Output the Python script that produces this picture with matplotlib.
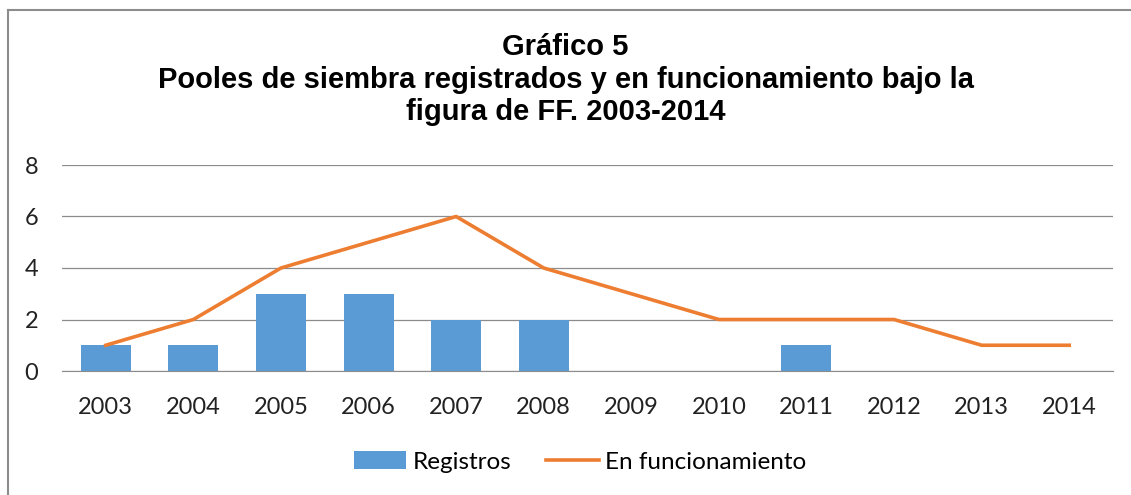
import matplotlib.pyplot as plt
from matplotlib.lines import Line2D
import numpy as np

years = ["2003", "2004", "2005", "2006", "2007", "2008",
         "2009", "2010", "2011", "2012", "2013", "2014"]
registros = [1, 1, 3, 3, 2, 2, 0, 0, 1, 0, 0, 0]
funcionamiento = [1, 2, 4, 5, 6, 4, 3, 2, 2, 2, 1, 1]

plt.rcParams["font.family"] = ["Lato", "DejaVu Sans"]

fig = plt.figure(figsize=(11.31, 4.95), dpi=100)
ax = fig.add_axes([62 / 1131, 1 - 371 / 495, (1113 - 62) / 1131, (371 - 165) / 495])

x = np.arange(len(years))
bars = ax.bar(x, registros, width=0.57, color="#5B9BD5", label="Registros", zorder=2)
line, = ax.plot(x, funcionamiento, color="#ED7D31", linewidth=2.6, label="En funcionamiento", zorder=3)

ax.set_xlim(-0.5, len(years) - 0.5)
ax.set_ylim(0, 8)
ax.set_yticks([0, 2, 4, 6, 8])
ax.set_xticks(x)
ax.set_xticklabels(years)
ax.yaxis.grid(True, color="#8c8c8c", linewidth=0.9)
ax.set_axisbelow(True)
for s in ["top", "right", "left"]:
    ax.spines[s].set_visible(False)
ax.spines["bottom"].set_color("#8c8c8c")
ax.tick_params(axis="both", length=0, labelsize=17, colors="#222222")
ax.tick_params(axis="x", pad=19)
ax.tick_params(axis="y", pad=17)

title_font = dict(ha="center", va="center", fontsize=21, fontweight="bold", family="Liberation Sans")
fig.text(0.5, 1 - 47 / 495, "Gráfico 5", **title_font)
fig.text(0.5, 1 - 80 / 495, "Pooles de siembra registrados y en funcionamiento bajo la", **title_font)
fig.text(0.5, 1 - 112 / 495, "figura de FF. 2003-2014", **title_font)

fig.legend([bars, line], ["Registros", "En funcionamiento"], loc="center",
           bbox_to_anchor=(580 / 1131, 1 - 462 / 495), ncol=2,
           frameon=False, fontsize=17.5, handlelength=2.15, columnspacing=1.45,
           handletextpad=0.25)

# chart border
fig.add_artist(Line2D([8 / 1131, 8 / 1131], [0, 1 - 10 / 495], color="#8c8c8c", linewidth=1.5))
fig.add_artist(Line2D([8 / 1131, 1], [1 - 10 / 495, 1 - 10 / 495], color="#8c8c8c", linewidth=1.5))

fig.savefig("out.png", dpi=100)
